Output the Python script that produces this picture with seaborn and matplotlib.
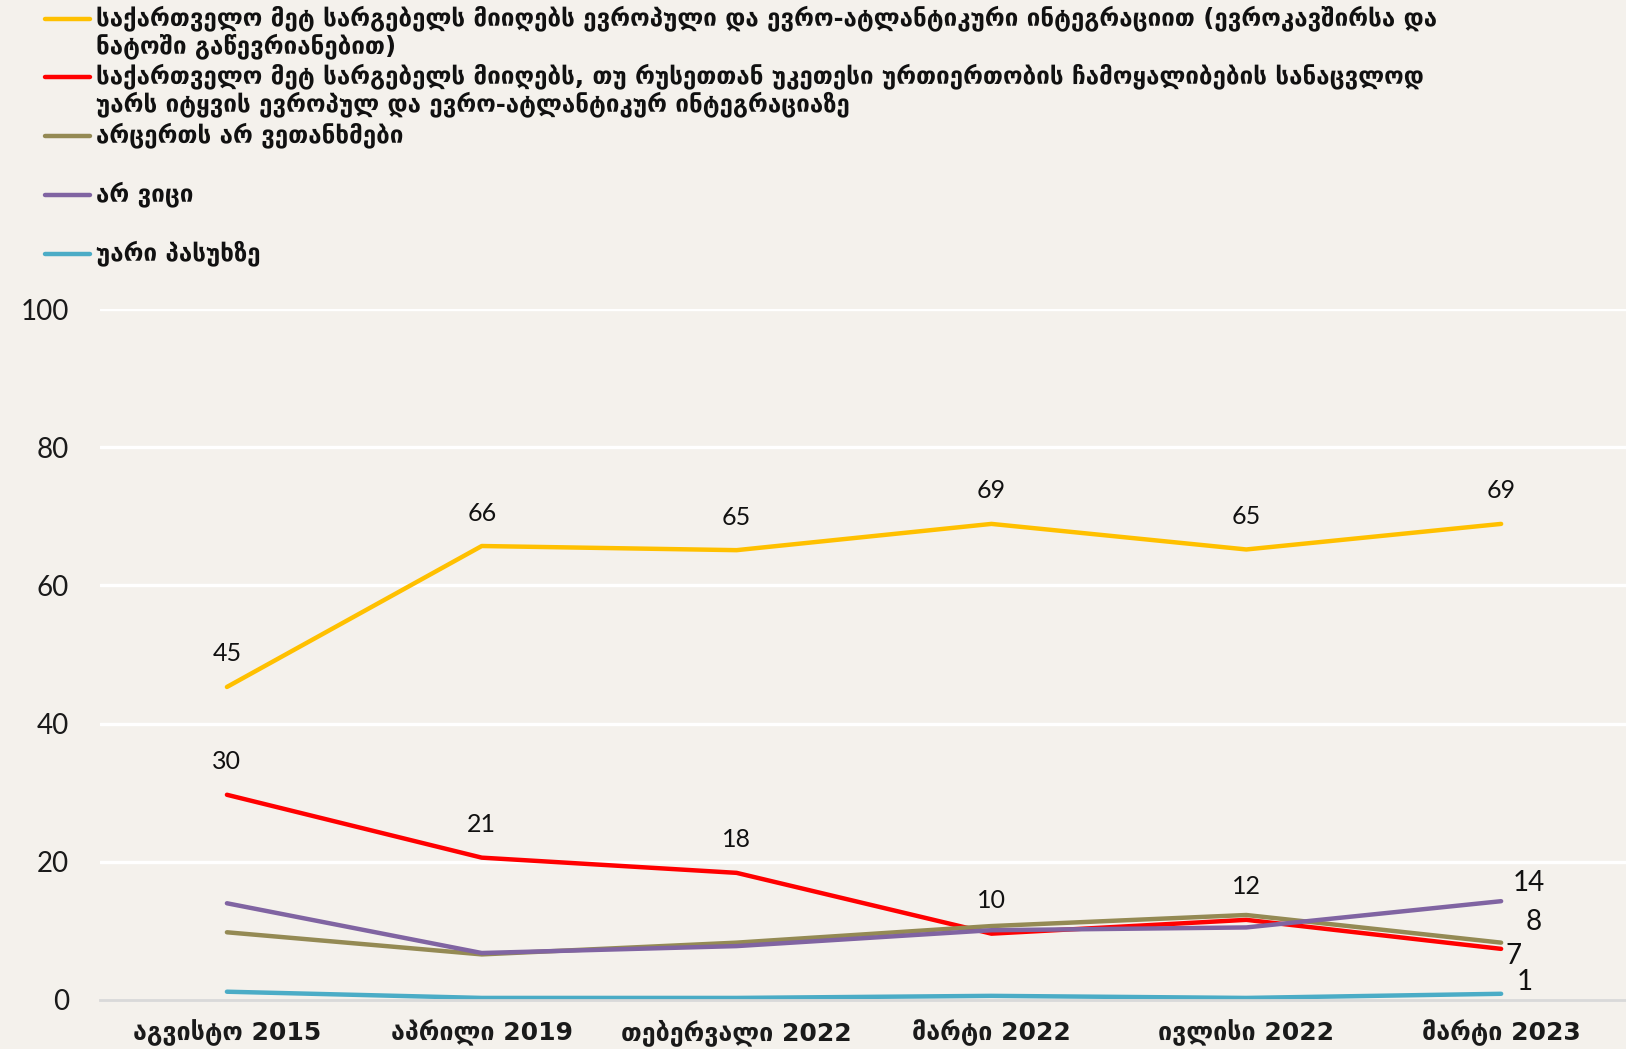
import matplotlib
matplotlib.use("Agg")
import matplotlib.pyplot as plt
import pandas as pd
import seaborn as sns
from matplotlib.lines import Line2D

# Survey waves (x axis)
periods = ["აგვისტო 2015", "აპრილი 2019", "თებერვალი 2022",
           "მარტი 2022", "ივლისი 2022", "მარტი 2023"]

# Answer options (legend text, wrapped as displayed)
series_names = [
    "საქართველო მეტ სარგებელს მიიღებს ევროპული და ევრო-ატლანტიკური ინტეგრაციით (ევროკავშირსა და\nნატოში გაწევრიანებით)",
    "საქართველო მეტ სარგებელს მიიღებს, თუ რუსეთთან უკეთესი ურთიერთობის ჩამოყალიბების სანაცვლოდ\nუარს იტყვის ევროპულ და ევრო-ატლანტიკურ ინტეგრაციაზე",
    "არცერთს არ ვეთანხმები",
    "არ ვიცი",
    "უარი პასუხზე",
]

# Shares of respondents, %
eu_integration = [45.3, 65.7, 65.1, 68.9, 65.2, 68.9]
russia_instead = [29.7, 20.6, 18.4, 9.6, 11.6, 7.4]
agree_neither = [9.8, 6.6, 8.3, 10.7, 12.3, 8.3]
dont_know = [14.0, 6.8, 7.8, 10.1, 10.5, 14.3]
refuse = [1.2, 0.3, 0.3, 0.6, 0.3, 0.9]

colors = ["#FFC000", "#FF0000", "#948A54", "#8064A2", "#4BACC6"]
y_ticks = [0, 20, 40, 60, 80, 100]

all_values = [eu_integration, russia_instead, agree_neither, dont_know, refuse]
df = pd.DataFrame(
    [(i, p, name, v)
     for name, vals in zip(series_names, all_values)
     for i, (p, v) in enumerate(zip(periods, vals))],
    columns=["pos", "period", "answer", "value"],
)

BG = "#F4F1EC"
sns.set_theme(style="white")
plt.rcParams["font.family"] = ["Lato", "DejaVu Sans"]

W, H = 1626, 1049
fig = plt.figure(figsize=(W / 100, H / 100), dpi=100, facecolor=BG)
ax = fig.add_axes([99.5 / W, 1 - 1000 / H, 1 - 99.5 / W, (1000 - 309) / H])
ax.set_facecolor(BG)

sns.lineplot(data=df, x="pos", y="value", hue="answer", hue_order=series_names,
             palette=colors, linewidth=3.2, sort=False, legend=False, ax=ax)
for line in ax.get_lines():
    line.set_solid_capstyle("round")

ax.set_xlim(-0.5, 5.49)
ax.set_ylim(0, 100)
ax.set_yticks(y_ticks)
ax.set_xticks(range(len(periods)))
ax.set_xticklabels(periods, fontfamily="DejaVu Sans", fontweight="bold",
                   fontsize=18, color="#1a1a1a")
ax.tick_params(axis="x", length=0, pad=14)
ax.tick_params(axis="y", length=0, pad=22, labelsize=20, labelcolor="#1a1a1a")
ax.set_xlabel("")
ax.set_ylabel("")

for y in y_ticks[1:]:
    ax.axhline(y, color="white", lw=2.4, zorder=0)
for side in ["top", "right", "left"]:
    ax.spines[side].set_visible(False)
ax.spines["bottom"].set_color("#D9D9D9")
ax.spines["bottom"].set_linewidth(2)

# Value labels
def label(x, v, dx=0, dy=33, size=18):
    ax.annotate(f"{v:.0f}", (x, v), xytext=(dx, dy), textcoords="offset pixels",
                ha="center", va="center", fontsize=size, color="#111111")

for i, v in enumerate(eu_integration):
    label(i, v)
for i, v in enumerate(russia_instead[:-1]):
    label(i, v)
last = len(periods) - 1
label(last, russia_instead[-1], dx=12, dy=-7, size=20)
label(last, agree_neither[-1], dx=33, dy=21, size=20)
label(last, dont_know[-1], dx=28, dy=18, size=20)
label(last, refuse[-1], dx=24, dy=12, size=20)

# Legend at the top-left
row_centers = [19, 77, 136, 195, 254]
for name, c, yc in zip(series_names, colors, row_centers):
    fy = 1 - yc / H
    fig.add_artist(Line2D([45 / W, 90 / W], [fy, fy], color=c, lw=3.2,
                          solid_capstyle="round", transform=fig.transFigure))
    fig.text(96 / W, 1 - (yc - 14) / H, name, ha="left", va="top",
             fontsize=17.4, fontweight="bold", family="DejaVu Sans",
             color="#111111", linespacing=1.14)

fig.savefig("out.png", dpi=100, facecolor=BG)
